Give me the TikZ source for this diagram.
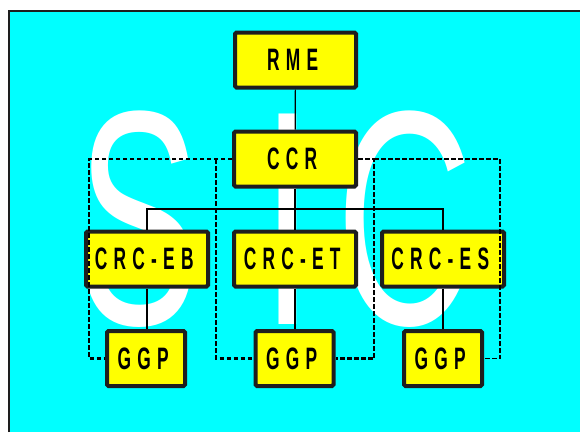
\documentclass[tikz,border=0pt]{standalone}
\usepackage{fontspec}
\usepackage{graphicx}
\setmainfont{Liberation Sans}
\newfontfamily\boxfont[LetterSpace=36]{Liberation Sans}
\definecolor{slide}{HTML}{00FFFF}
\definecolor{unit}{HTML}{FFFF00}
\definecolor{frame}{HTML}{1E1E1E}
\newcommand{\narrow}[1]{\scalebox{0.56}[1]{#1\kern10pt}}

\begin{document}
\begin{tikzpicture}
  [x=1pt,y=1pt,
   unit box/.style={draw=frame,line width=4pt,rounded corners=1.5pt,fill=unit,
     minimum width=#1,minimum height=55pt,inner sep=0pt,
     font=\boxfont\bfseries\fontsize{31}{31}\selectfont},
   big letter/.style={white,inner sep=0pt,anchor=base,
     font=\fontsize{306}{306}\selectfont},
   link/.style={line width=1.2pt},
   thick dash/.style={line width=2.2pt,dash pattern=on 4.5pt off 2.5pt},
   thin dash/.style={line width=1.2pt,dash pattern=on 4.5pt off 2.5pt}]

  \useasboundingbox (0,0) rectangle (580,-432);
  \fill[white] (0,0) rectangle (580,-432);
  \fill[slide] (9,-11) rectangle (580,-432);
  \draw[frame,line width=2.5pt] (9,-432) -- (9,-11) -- (580,-11);

  % letters behind the chart
  \node [big letter] (S) at (138.5,-324) {\scalebox{0.6}[1]{S}};
  \node [big letter] (I) at (288,-324) {\scalebox{0.62}[1]{I}};
  \node [big letter] (C) at (405,-324) {\scalebox{0.62}[1]{C}};

  \node [unit box=121pt] (RME) at (295.5,-60) {\narrow{RME}};
  \node [unit box=122pt] (CCR) at (295,-159) {\narrow{CCR}};
  \node [unit box=122pt] (CRC-EB) at (147,-259) {\narrow{CRC-EB}};
  \node [unit box=122pt] (CRC-ET) at (295,-259) {\narrow{CRC-ET}};
  \node [unit box=122pt] (CRC-ES) at (443,-259) {\narrow{CRC-ES}};
  \node [unit box=78pt] (GGP-EB) at (146,-358.5) {\narrow{GGP}};
  \node [unit box=78pt] (GGP-ET) at (294.5,-358.5) {\narrow{GGP}};
  \node [unit box=78pt] (GGP-ES) at (443,-358.5) {\narrow{GGP}};

  \coordinate (bus) at (295,-209);
  \coordinate (left rail) at (89,-159);
  \coordinate (inner left rail) at (216,-159);
  \coordinate (inner right rail) at (374,-159);
  \coordinate (right rail) at (500,-159);

  \draw [link] (RME) -- (CCR);
  \draw [link] (CCR) -- (CRC-ET);
  \draw [link] (CRC-EB.north) |- (bus) -| (CRC-ES.north);
  \draw [link] (CRC-EB) -- (CRC-EB |- GGP-EB.north);
  \draw [link] (CRC-ET) -- (CRC-ET |- GGP-ET.north);
  \draw [link] (CRC-ES) -- (GGP-ES);

  \draw [thick dash] (CCR.west) -- (left rail) |- (GGP-EB.west);
  \draw [thick dash] (inner left rail) |- (GGP-ET.west);
  \draw [thick dash] (CCR.east) -- (inner right rail) |- (GGP-ET.east);
  \draw [thin dash] (inner right rail) -- (right rail) |- (GGP-ES.east);

\end{tikzpicture}
\end{document}
